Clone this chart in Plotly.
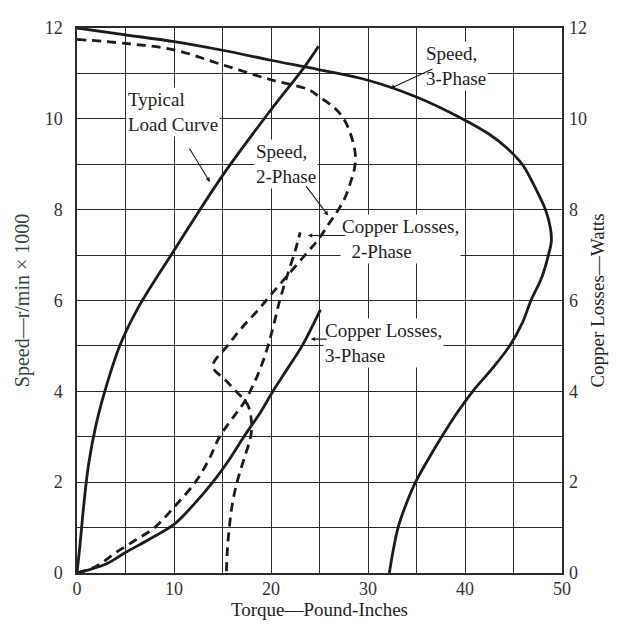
import plotly.graph_objects as go

# ---------------- data ----------------
speed3_torque = [0, 5, 10, 15, 20, 25, 30, 35, 40, 42.5, 44.2, 45.9, 47.2, 48.3, 48.8, 48.9, 48.6,
                 47.9, 46.8, 45.9, 44.6, 42.8, 40.8, 39.1, 37.6, 36.2, 34.9, 33.9, 33.1, 32.6, 32.2]
speed3_speed = [12.0, 11.85, 11.7, 11.51, 11.29, 11.08, 10.85, 10.48, 9.97, 9.66, 9.38, 9.0, 8.5, 8.0,
                7.6, 7.3, 7.0, 6.5, 6.0, 5.5, 5.0, 4.5, 4.0, 3.5, 3.0, 2.5, 2.0, 1.5, 1.0, 0.5, 0.0]

speed2_torque = [0, 5, 10, 15, 20, 23.9, 25, 26.5, 27.5, 28.3, 28.7, 28.6, 28.2, 27.6, 26.8, 26.0,
                 24.9, 23.5, 21.7, 20.2, 18.7, 17.0, 15.5, 14.0, 15.3, 16.4, 17.6, 18.0, 17.9,
                 17.2, 16.5, 16.0, 15.7, 15.5, 15.4]
speed2_speed = [11.75, 11.66, 11.52, 11.19, 10.86, 10.64, 10.48, 10.25, 10.0, 9.6, 9.2, 8.9, 8.6,
                8.25, 7.95, 7.7, 7.35, 7.0, 6.55, 6.18, 5.8, 5.4, 5.0, 4.55, 4.25, 4.0, 3.7, 3.3,
                3.0, 2.5, 2.0, 1.5, 1.0, 0.5, 0.0]

load_torque = [0, 0.3, 0.7, 1.2, 2.0, 3.0, 4.4, 6.2, 10.0, 15.0, 20.0, 23.3, 24.9]
load_speed = [0, 0.6, 1.5, 2.4, 3.3, 4.1, 5.0, 5.8, 7.1, 8.75, 10.2, 11.1, 11.6]

cu3_torque = [0, 3, 5, 7.5, 10, 12, 14, 15.7, 17.2, 18.8, 20.2, 21.7, 23.2, 25.1]
cu3_watts = [0, 0.2, 0.45, 0.75, 1.07, 1.5, 2.0, 2.5, 3.0, 3.5, 4.0, 4.5, 5.0, 5.8]

cu2_torque = [0, 2, 4, 6, 8, 10, 12.2, 13.6, 14.7, 16.0, 17.2, 18.3, 19.4, 20.2, 20.9, 21.6, 22.5, 23.0]
cu2_watts = [0, 0.15, 0.45, 0.72, 1.0, 1.45, 2.0, 2.5, 3.0, 3.4, 3.75, 4.2, 4.8, 5.4, 6.0, 6.5, 7.1, 7.5]

x_ticks = [0, 10, 20, 30, 40, 50]
y_ticks = [0, 2, 4, 6, 8, 10, 12]

# ---------------- styling ----------------
INK = "#1c1c1c"
GRID = "#2b2b2b"
FONT = "Liberation Serif"
solid = dict(color=INK, width=2.8, shape="spline", smoothing=1.0)
dashed = dict(color=INK, width=2.8, dash="9px,6px", shape="spline", smoothing=1.0)

fig = go.Figure()
fig.add_trace(go.Scatter(x=speed3_torque, y=speed3_speed, mode="lines", line=solid))
fig.add_trace(go.Scatter(x=speed2_torque, y=speed2_speed, mode="lines", line=dashed))
fig.add_trace(go.Scatter(x=load_torque, y=load_speed, mode="lines", line=solid))
fig.add_trace(go.Scatter(x=cu3_torque, y=cu3_watts, mode="lines", line=solid, yaxis="y2"))
fig.add_trace(go.Scatter(x=cu2_torque, y=cu2_watts, mode="lines", line=dashed, yaxis="y2"))

tickfont = dict(family=FONT, size=18, color="#333333")
axis_common = dict(
    showline=True, linecolor=GRID, linewidth=1.5, mirror=True,
    showgrid=True, gridcolor=GRID, gridwidth=1.3,
    zeroline=False, ticks="", tickfont=tickfont,
)

fig.update_layout(
    width=617, height=627,
    margin=dict(l=69, r=63, t=20, b=62, autoexpand=False),
    paper_bgcolor="white", plot_bgcolor="white",
    showlegend=False,
    font=dict(family=FONT, color="#222222"),
    xaxis=dict(range=[0, 50], tickvals=x_ticks, ticklabelstandoff=-1,
               minor=dict(dtick=5, showgrid=True, gridcolor=GRID, gridwidth=1.3),
               title=dict(text="Torque—Pound-Inches", font=dict(family=FONT, size=19, color="#222222"),
                          standoff=4),
               automargin=False, **axis_common),
    yaxis=dict(range=[0, 12], tickvals=y_ticks, ticklabelstandoff=9,
               minor=dict(dtick=1, showgrid=True, gridcolor=GRID, gridwidth=1.3),
               title=dict(text="Speed—r/min × 1000", font=dict(family=FONT, size=20, color="#2e4a3a"),
                          standoff=10),
               automargin=False, **axis_common),
    yaxis2=dict(range=[0, 12], tickvals=y_ticks, overlaying="y", side="right",
                showgrid=False, showline=False, zeroline=False, ticks="", ticklabelstandoff=6,
                tickfont=tickfont,
                title=dict(text="Copper Losses—Watts", font=dict(family=FONT, size=19, color="#222222"),
                           standoff=4),
                automargin=False),
)

# text labels
labels = [
    ("Typical<br>Load Curve", 5.0, 10.7),
    ("Speed,<br>2-Phase", 18.2, 9.55),
    ("Speed,<br>3-Phase", 35.8, 11.72),
    ("Copper Losses,<br>&nbsp;&nbsp;2-Phase", 27.1, 7.9),
    ("Copper Losses,<br>3-Phase", 25.4, 5.62),
]
for txt, x, y in labels:
    fig.add_annotation(x=x, y=y, xref="x", yref="y", text=txt, showarrow=False,
                       xanchor="left", yanchor="top", align="left",
                       bgcolor="white", borderpad=1,
                       font=dict(family=FONT, size=19, color="#1e1e1e"))

# pointer arrows (tail -> head)
arrows = [
    (11.5, 9.38, 13.7, 8.61),
    (23.5, 8.55, 25.9, 7.87),
    (36.8, 11.11, 32.3, 10.67),
    (27.8, 7.43, 23.8, 7.43),
    (25.9, 5.15, 24.1, 5.15),
]
for tx, ty, hx, hy in arrows:
    fig.add_annotation(x=hx, y=hy, ax=tx, ay=ty, xref="x", yref="y", axref="x", ayref="y",
                       text="", showarrow=True, arrowhead=2, arrowsize=0.8, arrowwidth=1.1,
                       arrowcolor=INK)

fig.write_html("out.html")
